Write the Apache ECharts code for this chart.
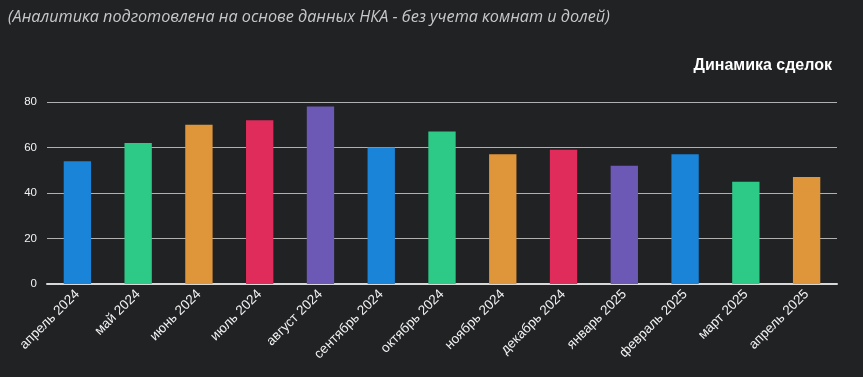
<!DOCTYPE html>
<html><head><meta charset="utf-8">
<script src="https://cdn.jsdelivr.net/npm/echarts@6/dist/echarts.min.js"></script>
<style>html,body{margin:0;padding:0;background:#212224;}#c{width:863px;height:377px;}</style>
</head><body><div id="c"></div>
<script>
const categories = ['апрель 2024','май 2024','июнь 2024','июль 2024','август 2024','сентябрь 2024','октябрь 2024','ноябрь 2024','декабрь 2024','январь 2025','февраль 2025','март 2025','апрель 2025'];
const deals = [54, 62, 70, 72, 78, 60, 67, 57, 59, 52, 57, 45, 47];
const yTicks = [0, 20, 40, 60, 80];
const palette = ['#1a84d8','#2dc987','#df963a','#df2c5b','#6c58b5'];

const chart = echarts.init(document.getElementById('c'), null, {renderer:'canvas'});
chart.setOption({
  backgroundColor: '#212224',
  animation: false,
  title: [
    {text: '(Аналитика подготовлена на основе данных НКА - без учета комнат и долей)', left: 3, top: 4,
     textStyle: {color: '#c8c8c8', fontSize: 16.2, fontStyle: 'italic', fontWeight: 'normal', fontFamily: 'Open Sans'}},
    {text: 'Динамика сделок', right: 26, top: 53,
     textStyle: {color: '#ffffff', fontSize: 16, fontWeight: 'bold', fontFamily: 'Liberation Sans'}}
  ],
  grid: {left: 47, right: 26, top: 102, bottom: 93},
  xAxis: {
    type: 'category', data: categories,
    axisLine: {lineStyle: {color: '#d8d8d8', width: 2}},
    axisTick: {lineStyle: {color: '#aaaaaa'}, length: 5},
    axisLabel: {rotate: 45, color: '#f2f2f2', fontSize: 13.5, fontFamily: 'Liberation Sans', margin: 8}
  },
  yAxis: {
    type: 'value', min: yTicks[0], max: yTicks[yTicks.length-1], interval: 20,
    axisLine: {show: false}, axisTick: {show: false},
    axisLabel: {color: '#f2f2f2', fontSize: 11.5, fontFamily: 'Liberation Sans', margin: 10},
    splitLine: {lineStyle: {color: '#b0b0b0', width: 1}}
  },
  series: [{
    type: 'bar', data: deals.map((v,i)=>({value: v, itemStyle: {color: palette[i % palette.length]}})),
    barWidth: '45%'
  }]
});
</script></body></html>
